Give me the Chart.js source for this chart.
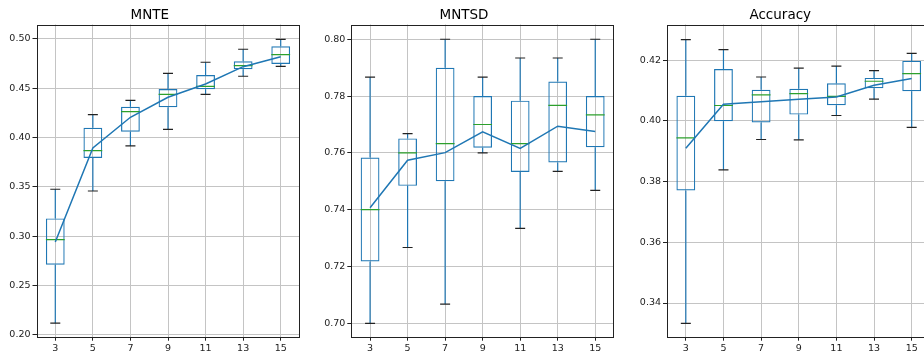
<!DOCTYPE html>
<html>
<head>
<meta charset="utf-8">
<script src="https://cdn.jsdelivr.net/npm/chart.js@4.4.0/dist/chart.umd.min.js"></script>
<style>
  html, body { margin: 0; padding: 0; background: #fff; overflow: hidden; }
  #wrap { position: relative; width: 924px; height: 354px; overflow: hidden; }
  canvas { position: absolute; top: 0; }
</style>
</head>
<body>
<div id="wrap">
  <canvas id="c1" width="336" height="354" style="left:0px"></canvas>
  <canvas id="c2" width="337" height="354" style="left:314px"></canvas>
  <canvas id="c3" width="337" height="354" style="left:630px"></canvas>
</div>
<script>
// window sizes (x axis)
const kLabels = ['3', '5', '7', '9', '11', '13', '15'];

// MNTE
const mnteMin    = [0.2117, 0.3458, 0.3915, 0.4084, 0.4439, 0.4622, 0.4723];
const mnteQ1     = [0.2710, 0.3793, 0.4060, 0.4307, 0.4490, 0.4693, 0.4746];
const mnteMedian = [0.2965, 0.3867, 0.4263, 0.4439, 0.4520, 0.4730, 0.4841];
const mnteQ3     = [0.3180, 0.4100, 0.4313, 0.4493, 0.4635, 0.4774, 0.4926];
const mnteMax    = [0.3476, 0.4232, 0.4378, 0.4652, 0.4764, 0.4896, 0.4997];
const mnteMean   = [0.2940, 0.3895, 0.4206, 0.4409, 0.4544, 0.4719, 0.4820];
const mnteTicks  = [0.20, 0.25, 0.30, 0.35, 0.40, 0.45, 0.50];

// MNTSD
const mntsdMin    = [0.7000, 0.7267, 0.7068, 0.7600, 0.7334, 0.7535, 0.7468];
const mntsdQ1     = [0.7218, 0.7484, 0.7500, 0.7618, 0.7533, 0.7566, 0.7620];
const mntsdMedian = [0.7400, 0.7600, 0.7633, 0.7700, 0.7633, 0.7767, 0.7734];
const mntsdQ3     = [0.7584, 0.7651, 0.7900, 0.7800, 0.7784, 0.7851, 0.7800];
const mntsdMax    = [0.7867, 0.7668, 0.8000, 0.7867, 0.7934, 0.7934, 0.8000];
const mntsdMean   = [0.7407, 0.7574, 0.7601, 0.7674, 0.7616, 0.7694, 0.7675];
const mntsdTicks  = [0.70, 0.72, 0.74, 0.76, 0.78, 0.80];

// Accuracy
const accMin    = [0.3333, 0.3839, 0.3939, 0.3938, 0.4018, 0.4072, 0.3979];
const accQ1     = [0.3771, 0.3999, 0.3995, 0.4021, 0.4052, 0.4108, 0.4098];
const accMedian = [0.3944, 0.4051, 0.4086, 0.4090, 0.4081, 0.4131, 0.4156];
const accQ3     = [0.4083, 0.4171, 0.4103, 0.4106, 0.4124, 0.4142, 0.4198];
const accMax    = [0.4268, 0.4235, 0.4145, 0.4174, 0.4181, 0.4166, 0.4223];
const accMean   = [0.3910, 0.4055, 0.4063, 0.4072, 0.4079, 0.4118, 0.4140];
const accTicks  = [0.34, 0.36, 0.38, 0.40, 0.42];

Chart.defaults.font.family = "'DejaVu Sans', sans-serif";
Chart.defaults.color = '#222';

const BLUE = '#1f77b4';
const GREEN = '#2ca02c';

// full box around the plot area (matplotlib spines)
const framePlugin = {
  id: 'frame',
  afterDraw(chart) {
    const a = chart.chartArea;
    const ctx = chart.ctx;
    ctx.save();
    ctx.strokeStyle = '#222';
    ctx.lineWidth = 1;
    ctx.strokeRect(Math.round(a.left) + 0.5, Math.round(a.top) + 0.5,
      Math.round(a.right) - Math.round(a.left) - 1, Math.round(a.bottom) - Math.round(a.top));
    ctx.restore();
  }
};

function makeBoxChart(id, title, s, yMin, yMax, yTicks, yWidth, rightPad) {
  const whiskers = [];
  const caps = [];
  kLabels.forEach((k, i) => {
    whiskers.push({x: k, y: s.q3[i]}, {x: k, y: s.max[i]}, {x: k, y: null});
    whiskers.push({x: k, y: s.q1[i]}, {x: k, y: s.min[i]}, {x: k, y: null});
    caps.push({x: k, y: s.max[i]}, {x: k, y: s.min[i]});
  });

  return new Chart(document.getElementById(id).getContext('2d'), {
    type: 'bar',
    data: {
      labels: kLabels,
      datasets: [
        {
          type: 'line',
          data: s.mean,
          borderColor: BLUE,
          borderWidth: 1.5,
          pointRadius: 0,
          fill: false
        },
        {
          type: 'line',
          data: kLabels.map((k, i) => ({x: k, y: s.median[i]})),
          showLine: false,
          pointStyle: 'line',
          pointRadius: 9.4,
          pointBorderColor: GREEN,
          pointBorderWidth: 1.2
        },
        {
          type: 'line',
          data: caps,
          showLine: false,
          pointStyle: 'line',
          pointRadius: 5,
          pointBorderColor: '#222',
          pointBorderWidth: 1.2
        },
        {
          type: 'bar',
          data: kLabels.map((k, i) => [s.q1[i], s.q3[i]]),
          backgroundColor: 'rgba(0,0,0,0)',
          borderColor: BLUE,
          borderWidth: 1.2,
          borderSkipped: false,
          barPercentage: 0.5,
          categoryPercentage: 1
        },
        {
          type: 'line',
          data: whiskers,
          borderColor: BLUE,
          borderWidth: 1.2,
          pointRadius: 0,
          spanGaps: false,
          fill: false
        }
      ]
    },
    options: {
      responsive: false,
      animation: false,
      layout: { padding: { left: 0, right: rightPad, top: 0, bottom: 0 } },
      plugins: {
        legend: { display: false },
        tooltip: { enabled: false },
        title: {
          display: true,
          text: title,
          color: '#000',
          font: { size: 13.5, weight: 'normal' },
          padding: { top: 7.5, bottom: 0.8 }
        }
      },
      scales: {
        x: {
          offset: true,
          grid: { offset: false, color: '#c4c4c4', tickColor: '#222', tickLength: 4 },
          border: { display: false },
          ticks: { font: { size: 9.5 }, padding: 2, maxRotation: 0 },
          afterFit(scale) { scale.height = 17.3; }
        },
        y: {
          min: yMin,
          max: yMax,
          grid: { color: '#c4c4c4', tickColor: '#222', tickLength: 4 },
          border: { display: false },
          ticks: {
            font: { size: 9.5 },
            padding: 2,
            callback: (v) => v.toFixed(2)
          },
          afterBuildTicks(scale) { scale.ticks = yTicks.map(v => ({value: v})); },
          afterFit(scale) { scale.width = yWidth; }
        }
      }
    },
    plugins: [framePlugin]
  });
}

makeBoxChart('c1', 'MNTE',
  {min: mnteMin, q1: mnteQ1, median: mnteMedian, q3: mnteQ3, max: mnteMax, mean: mnteMean},
  0.198, 0.5147, mnteTicks, 36.5, 36.5);
makeBoxChart('c2', 'MNTSD',
  {min: mntsdMin, q1: mntsdQ1, median: mntsdMedian, q3: mntsdQ3, max: mntsdMax, mean: mntsdMean},
  0.6953, 0.8052, mntsdTicks, 37.3, 37);
makeBoxChart('c3', 'Accuracy',
  {min: accMin, q1: accQ1, median: accMedian, q3: accQ3, max: accMax, mean: accMean},
  0.3289, 0.4318, accTicks, 37, 36.5);
</script>
</body>
</html>
